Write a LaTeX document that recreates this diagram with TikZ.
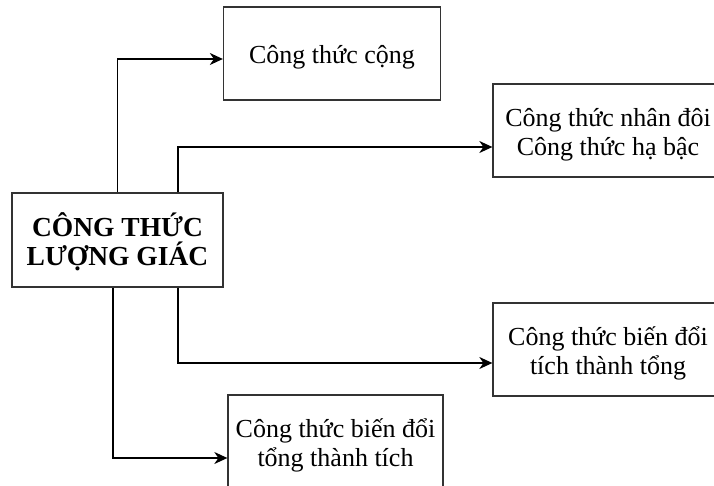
\documentclass[tikz,border=0pt]{standalone}
\usepackage{fontspec}
\setmainfont{Liberation Serif}
\usetikzlibrary{arrows.meta}
\begin{document}
\begin{tikzpicture}[x=1pt,y=-1pt,
  box/.style={draw=black!80,line width=1.3pt,fill=white,inner sep=0pt},
  txt/.style={align=center,inner sep=0pt,font=\fontsize{26}{29}\selectfont},
  arr/.style={line width=1.3pt,-{Stealth[length=13pt,width=12pt,inset=4pt]}}]
\useasboundingbox (0,0) rectangle (714,486);
\clip (0,0) rectangle (714,486);
\node[box,minimum width=211pt,minimum height=94pt] (main) at (117.5,240) {};
\node[txt,font=\fontsize{27.5}{29}\selectfont\bfseries] (maint) at (117.5,242) {CÔNG THỨC\\LƯỢNG GIÁC};
\node[box,minimum width=217pt,minimum height=93pt] (b1) at (332,53.5) {};
\node[txt] (b1t) at (332,57) {Công thức cộng};
\node[box,minimum width=230pt,minimum height=93pt] (b2) at (608,130.5) {};
\node[txt] (b2t) at (608,135) {Công thức nhân đôi\\Công thức hạ bậc};
\node[box,minimum width=230pt,minimum height=93pt] (b3) at (608,349.5) {};
\node[txt] (b3t) at (608,353) {Công thức biến đổi\\tích thành tổng};
\node[box,minimum width=215pt,minimum height=93pt] (b4) at (335.5,441.5) {};
\node[txt] (b4t) at (335.5,445) {Công thức biến đổi\\tổng thành tích};
\draw[arr] (main.north) |- ([yshift=-5.5pt]b1.west);
\draw[arr] ([xshift=60.5pt]main.north) |- ([yshift=-16.5pt]b2.west);
\draw[arr] ([xshift=60.5pt]main.south) |- ([yshift=-13.5pt]b3.west);
\draw[arr] ([xshift=-4.5pt]main.south) |- ([yshift=-16.5pt]b4.west);
\end{tikzpicture}
\end{document}
